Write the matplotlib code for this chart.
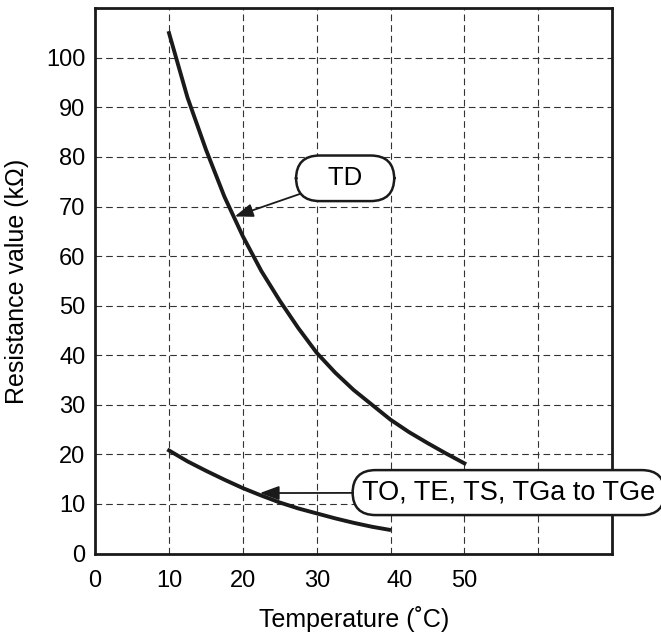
import matplotlib.pyplot as plt
from matplotlib.transforms import ScaledTranslation

plt.rcParams['font.family'] = ['Liberation Sans', 'DejaVu Sans']

# curve data
td_temp = [10, 12.5, 15, 17.5, 20, 22.5, 25, 27.5, 30, 32.5, 35, 37.5, 40,
           42.5, 45, 47.5, 50]
td_res = [105, 92, 81.5, 72, 64, 57, 51, 45.5, 40.5, 36.5, 33, 30, 27,
          24.5, 22.3, 20.2, 18.2]

to_temp = [10, 12.5, 15, 17.5, 20, 22.5, 25, 27.5, 30, 32.5, 35, 37.5, 39.8]
to_res = [20.8, 18.6, 16.7, 14.9, 13.2, 11.7, 10.3, 9.1, 8.1, 7.1, 6.2, 5.4, 4.8]

x_ticks = [0, 10, 20, 30, 40, 50]
y_ticks = [0, 10, 20, 30, 40, 50, 60, 70, 80, 90, 100]

fig = plt.figure(figsize=(6.61, 6.37), dpi=100)
ax = fig.add_axes([0.144, 0.131, 0.782, 0.856])

ax.set_xlim(0, 70)
ax.set_ylim(0, 110)

for gx in range(10, 70, 10):
    ax.axvline(gx, color='#333333', lw=0.8, ls=(0, (6, 3.6)), zorder=1)
for gy in range(10, 110, 10):
    ax.axhline(gy, color='#333333', lw=0.8, ls=(0, (6, 3.6)), zorder=1)

ax.plot(td_temp, td_res, color='#1a1a1a', lw=2.8, zorder=3,
        solid_joinstyle='round')
ax.plot(to_temp, to_res, color='#1a1a1a', lw=2.8, zorder=3,
        solid_joinstyle='round')

ax.set_xticks(x_ticks)
ax.set_yticks(y_ticks)
ax.tick_params(length=0, labelsize=17)
ax.tick_params(axis='x', pad=12)
ax.tick_params(axis='y', pad=7)
for lab in ax.get_xticklabels():
    if lab.get_text() == '40':
        lab.set_transform(lab.get_transform() +
                          ScaledTranslation(0.09, 0, fig.dpi_scale_trans))
for s in ax.spines.values():
    s.set_linewidth(2)
    s.set_color('#1a1a1a')

ax.set_xlabel('Temperature (˚C)', fontsize=18, labelpad=10)
ax.set_ylabel('Resistance value (kΩ)', fontsize=18, labelpad=12)

arrow = dict(arrowstyle='-|>,head_length=0.6,head_width=0.22',
             color='#1a1a1a', lw=1.3, shrinkA=0, shrinkB=0)

ax.annotate('   TD   ', xy=(18.9, 68), xytext=(33.85, 75.7), fontsize=18.5,
            ha='center', va='center',
            bbox=dict(boxstyle='round,pad=0.42,rounding_size=0.92',
                      fc='white', ec='#1a1a1a', lw=1.8),
            arrowprops=arrow, zorder=5)
ax.annotate('TO, TE, TS, TGa to TGe', xy=(22.3, 12.2), xytext=(56.0, 12.3),
            fontsize=19.5, ha='center', va='center',
            bbox=dict(boxstyle='round,pad=0.35,rounding_size=0.85',
                      fc='white', ec='#1a1a1a', lw=1.8),
            arrowprops=arrow, annotation_clip=False, zorder=5)

fig.savefig('out.png', dpi=100)
